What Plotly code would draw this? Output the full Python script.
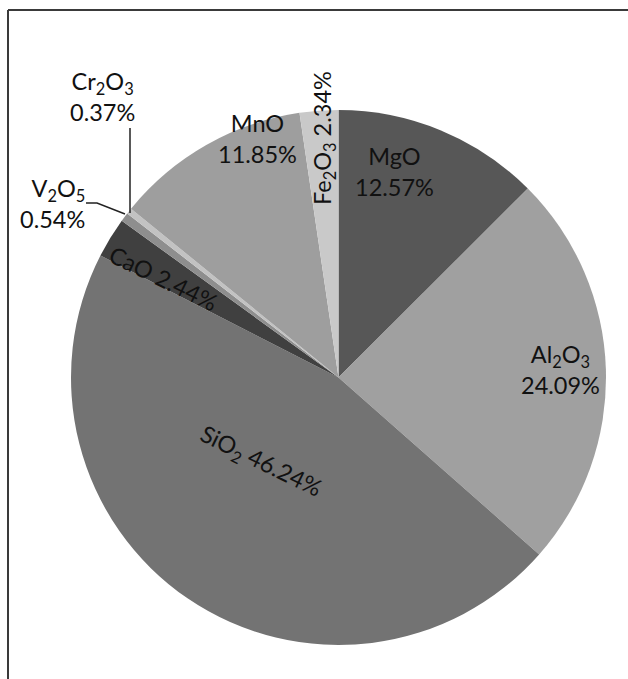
import plotly.graph_objects as go

# Oxide composition (wt %), listed clockwise from 12 o'clock
oxides = ["MgO", "Al2O3", "SiO2", "CaO", "V2O5", "Cr2O3", "MnO", "Fe2O3"]
display_names = ["MgO", "Al<sub>2</sub>O<sub>3</sub>", "SiO<sub>2</sub>", "CaO",
                 "V<sub>2</sub>O<sub>5</sub>", "Cr<sub>2</sub>O<sub>3</sub>", "MnO",
                 "Fe<sub>2</sub>O<sub>3</sub>"]
percent = [12.57, 24.09, 46.24, 2.44, 0.54, 0.37, 11.85, 2.34]
colors = ["#575757", "#a0a0a0", "#737373", "#404040", "#8e8e8e", "#c2c2c2",
          "#9e9e9e", "#c9c9c9"]

W, H = 628, 679
FONT = dict(family="Lato, Carlito, sans-serif", size=23.5, color="#111111")

fig = go.Figure(go.Pie(
    labels=oxides,
    values=percent,
    sort=False,
    direction="clockwise",
    rotation=0,
    marker=dict(colors=colors, line=dict(width=0)),
    textinfo="none",
    hoverinfo="label+value",
    showlegend=False,
    domain=dict(x=[71 / W, 606 / W], y=[34 / H, 569 / H]),
))


def px(x):
    return x / W


def py(y):
    return 1 - y / H


def label(i, x, y, two_lines=True, angle=0, xanchor="center", align="center"):
    sep = "<br>" if two_lines else " "
    text = f"{display_names[i]}{sep}{percent[i]:.2f}%"
    fig.add_annotation(x=px(x), y=py(y), xref="paper", yref="paper",
                       text=text, showarrow=False, textangle=angle,
                       xanchor=xanchor, yanchor="middle", align=align,
                       font=FONT)


idx = {name: i for i, name in enumerate(oxides)}
label(idx["MgO"], 394, 171)
label(idx["Al2O3"], 560, 370)
label(idx["SiO2"], 260, 462, two_lines=False, angle=26)
label(idx["CaO"], 163, 278, two_lines=False, angle=26)
label(idx["V2O5"], 87, 203, xanchor="right", align="right")
label(idx["Cr2O3"], 102, 97)
label(idx["MnO"], 257, 139)
label(idx["Fe2O3"], 324, 138, two_lines=False, angle=-90)

# Leader lines for the two thin slices
line_style = dict(color="#222222", width=1.5)
fig.add_shape(type="line", xref="paper", yref="paper",
              x0=px(130), y0=py(128), x1=px(130), y1=py(213), line=line_style)
fig.add_shape(type="path", xref="paper", yref="paper",
              path=f"M {px(86)} {py(203)} L {px(97)} {py(203)} L {px(125)} {py(214)}",
              line=line_style)

# Chart frame (top and left edges)
frame = dict(color="#3a3a3a", width=2)
fig.add_shape(type="line", xref="paper", yref="paper",
              x0=px(8), y0=py(10), x1=1, y1=py(10), line=frame)
fig.add_shape(type="line", xref="paper", yref="paper",
              x0=px(8), y0=py(10), x1=px(8), y1=0, line=frame)

fig.update_layout(
    width=W, height=H,
    margin=dict(l=0, r=0, t=0, b=0),
    paper_bgcolor="white",
    plot_bgcolor="white",
)

fig.write_html("out.html")
